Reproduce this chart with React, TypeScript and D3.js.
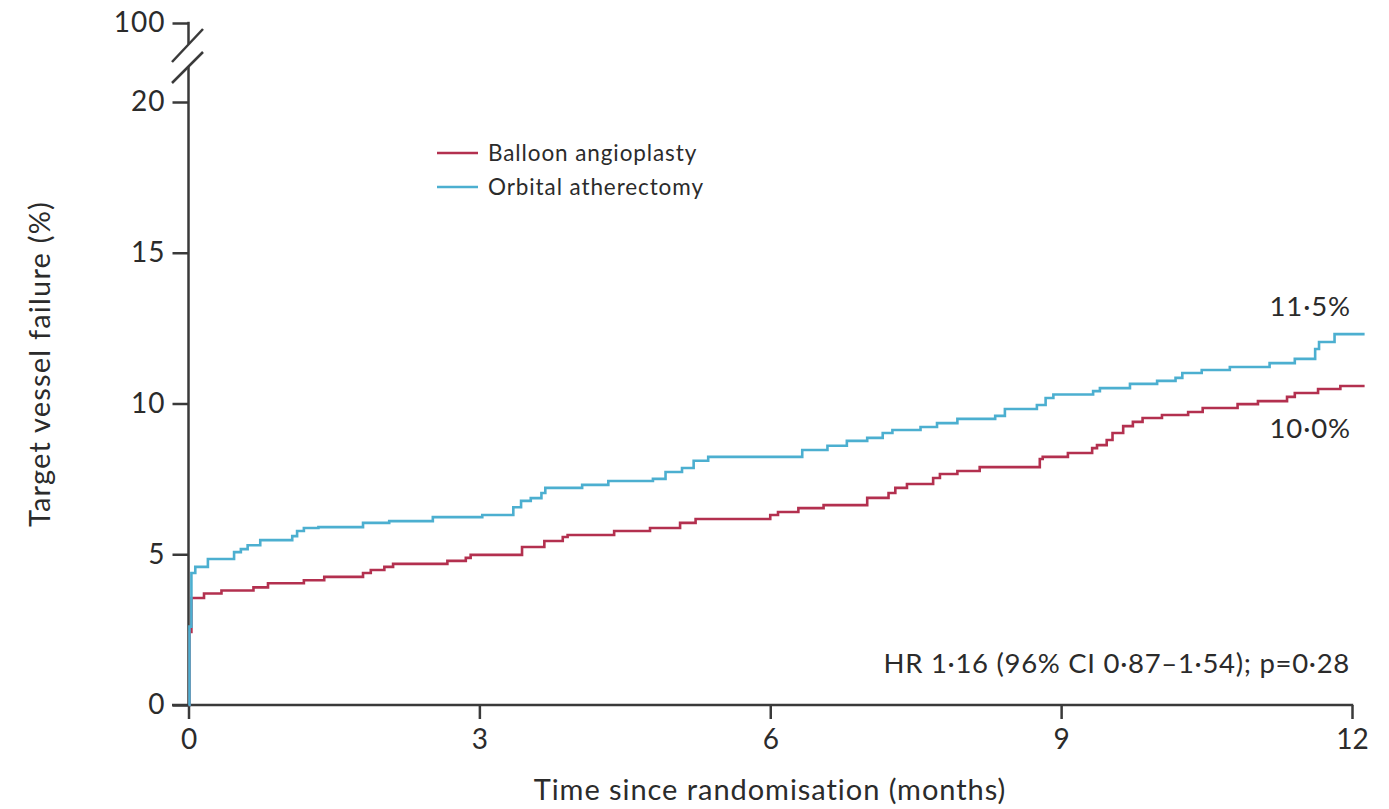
import * as d3 from "d3";
import { useEffect, useRef } from "react";

// step points: [months, % with event]
const orbitalSteps: [number, number][] = [
  [0, 0], [0.01, 2.6], [0.03, 4.38], [0.07, 4.58], [0.2, 4.84], [0.47, 5.07], [0.54, 5.17],
  [0.61, 5.3], [0.74, 5.47], [1.07, 5.6], [1.12, 5.77], [1.19, 5.87], [1.34, 5.9], [1.8, 6.04],
  [2.07, 6.1], [2.52, 6.23], [3.03, 6.3], [3.35, 6.56], [3.43, 6.77], [3.53, 6.86], [3.64, 7.03],
  [3.68, 7.2], [4.06, 7.3], [4.33, 7.43], [4.79, 7.5], [4.92, 7.73], [5.09, 7.86], [5.21, 8.1],
  [5.36, 8.23], [6.33, 8.46], [6.59, 8.6], [6.79, 8.76], [7.0, 8.86], [7.16, 9.02], [7.26, 9.12],
  [7.55, 9.22], [7.72, 9.35], [7.93, 9.49], [8.32, 9.59], [8.42, 9.82], [8.75, 9.95], [8.84, 10.18],
  [8.92, 10.3], [9.33, 10.41], [9.4, 10.51], [9.71, 10.65], [9.99, 10.75], [10.18, 10.85],
  [10.25, 11.01], [10.45, 11.11], [10.74, 11.21], [11.15, 11.34], [11.41, 11.48], [11.62, 11.81],
  [11.66, 12.04], [11.82, 12.3], [12.13, 12.3],
];
const balloonSteps: [number, number][] = [
  [0, 0], [0.01, 2.42], [0.03, 3.55], [0.16, 3.7], [0.34, 3.8], [0.67, 3.9], [0.82, 4.04],
  [1.19, 4.14], [1.4, 4.25], [1.8, 4.38], [1.88, 4.48], [2.02, 4.58], [2.11, 4.68], [2.67, 4.78],
  [2.86, 4.88], [2.91, 4.98], [3.44, 5.24], [3.67, 5.44], [3.86, 5.57], [3.91, 5.64], [4.39, 5.77],
  [4.76, 5.87], [5.07, 6.04], [5.23, 6.17], [6.0, 6.3], [6.08, 6.4], [6.29, 6.53], [6.55, 6.63],
  [7.0, 6.87], [7.22, 7.03], [7.29, 7.2], [7.41, 7.33], [7.68, 7.53], [7.75, 7.66], [7.93, 7.76],
  [8.16, 7.89], [8.78, 8.16], [8.81, 8.23], [9.07, 8.36], [9.32, 8.52], [9.37, 8.62], [9.47, 8.79],
  [9.53, 9.02], [9.64, 9.25], [9.74, 9.39], [9.84, 9.52], [10.04, 9.62], [10.31, 9.72],
  [10.46, 9.85], [10.82, 9.98], [11.03, 10.08], [11.33, 10.22], [11.41, 10.35], [11.65, 10.48],
  [11.88, 10.58], [12.13, 10.58],
];
const xTicks = [0, 3, 6, 9, 12];
const yTicks = [0, 5, 10, 15, 20, 100];
const seriesNames = ["Balloon angioplasty", "Orbital atherectomy"];
const endLabels = ["10·0%", "11·5%"];
const hrText = "HR 1·16 (96% CI 0·87–1·54); p=0·28";

const width = 1389;
const height = 809;
const FONT = "Lato, 'Open Sans', sans-serif";
const INK = "#2b2b2b";
const AXIS = "#3a3a3a";
const RED = "#b3304f";
const BLUE = "#4cafd0";

export default function App() {
  const svgRef = useRef<SVGSVGElement>(null);

  useEffect(() => {
    const svg = d3.select(svgRef.current);
    svg.selectAll("*").remove();

    const x = d3.scaleLinear().domain([0, 12]).range([188.5, 1352]);
    // broken axis: 0-20 linear, then compressed up to 100
    const y = d3.scaleLinear().domain([0, 20, 100]).range([705, 102, 23]);

    // y axis
    const yAxis = svg
      .append("g")
      .attr("transform", `translate(${x(0)},0)`)
      .call(d3.axisLeft(y).tickValues(yTicks).tickSize(16).tickPadding(7).tickFormat(d3.format("d")));
    yAxis.select(".domain").remove();
    yAxis.selectAll("line").attr("stroke", AXIS).attr("stroke-width", 2.5);
    yAxis
      .selectAll("text")
      .attr("font-family", FONT)
      .attr("font-size", 28)
      .attr("letter-spacing", 1)
      .attr("fill", INK);

    const ax = x(0);
    // axis pieces either side of the break
    svg.append("line").attr("x1", ax).attr("x2", ax).attr("y1", y(0)).attr("y2", 66)
      .attr("stroke", AXIS).attr("stroke-width", 2.5);
    svg.append("line").attr("x1", ax).attr("x2", ax).attr("y1", y(100) - 1.2).attr("y2", 44)
      .attr("stroke", AXIS).attr("stroke-width", 2.5);
    // break slashes
    [[62, 29], [83, 52]].forEach(([y1, y2]) => {
      svg.append("line").attr("x1", ax - 16.5).attr("y1", y1).attr("x2", ax + 14.5).attr("y2", y2)
        .attr("stroke", AXIS).attr("stroke-width", 2.5);
    });

    // x axis
    const xAxis = svg
      .append("g")
      .attr("transform", `translate(0,${y(0)})`)
      .call(d3.axisBottom(x).tickValues(xTicks).tickSize(14).tickPadding(10).tickFormat(d3.format("d")));
    xAxis.select(".domain").remove();
    xAxis.selectAll("line").attr("stroke", AXIS).attr("stroke-width", 2.5);
    xAxis
      .selectAll("text")
      .attr("font-family", FONT)
      .attr("font-size", 28)
      .attr("fill", INK);
    svg.append("line").attr("x1", 172).attr("x2", x(12) + 1.2).attr("y1", y(0)).attr("y2", y(0))
      .attr("stroke", AXIS).attr("stroke-width", 2.5);

    // curves
    const line = d3
      .line<[number, number]>()
      .x((d) => x(d[0]))
      .y((d) => y(d[1]))
      .curve(d3.curveStepAfter);

    svg.append("path").datum(balloonSteps).attr("d", line).attr("fill", "none")
      .attr("stroke", RED).attr("stroke-width", 2.6);
    svg.append("path").datum(orbitalSteps).attr("d", line).attr("fill", "none")
      .attr("stroke", BLUE).attr("stroke-width", 2.6);

    // legend
    const colors = [RED, BLUE];
    seriesNames.forEach((name, i) => {
      const ly = 153 + i * 34;
      svg.append("line").attr("x1", 437).attr("x2", 478).attr("y1", ly).attr("y2", ly)
        .attr("stroke", colors[i]).attr("stroke-width", 2.6);
      svg.append("text").attr("x", 488).attr("y", ly + 8).text(name)
        .attr("font-family", FONT).attr("font-size", 22.5).attr("letter-spacing", 0.9).attr("fill", INK);
    });

    // end labels
    const labelStyle = (t: d3.Selection<SVGTextElement, unknown, null, undefined>) =>
      t.attr("font-family", FONT).attr("font-size", 27.5).attr("letter-spacing", 0.9)
        .attr("text-anchor", "end").attr("fill", INK);
    svg.append("text").attr("x", 1351).attr("y", 438).text(endLabels[0]).call(labelStyle);
    svg.append("text").attr("x", 1351).attr("y", 316).text(endLabels[1]).call(labelStyle);
    svg.append("text").attr("x", 1350).attr("y", 673).text(hrText).call(labelStyle)
      .attr("letter-spacing", 0.7);

    // axis titles
    svg.append("text").attr("x", 770).attr("y", 800).attr("text-anchor", "middle")
      .text("Time since randomisation (months)")
      .attr("font-family", FONT).attr("font-size", 29).attr("letter-spacing", 0.95).attr("fill", INK);
    svg.append("text")
      .attr("transform", `translate(50,364) rotate(-90)`)
      .attr("text-anchor", "middle")
      .text("Target vessel failure (%)")
      .attr("font-family", FONT).attr("font-size", 29).attr("letter-spacing", 1.2).attr("fill", INK);
  }, []);

  return (
    <svg
      ref={svgRef}
      width={width}
      height={height}
      style={{ position: "absolute", left: 0, top: 0, background: "#fff" }}
    />
  );
}
